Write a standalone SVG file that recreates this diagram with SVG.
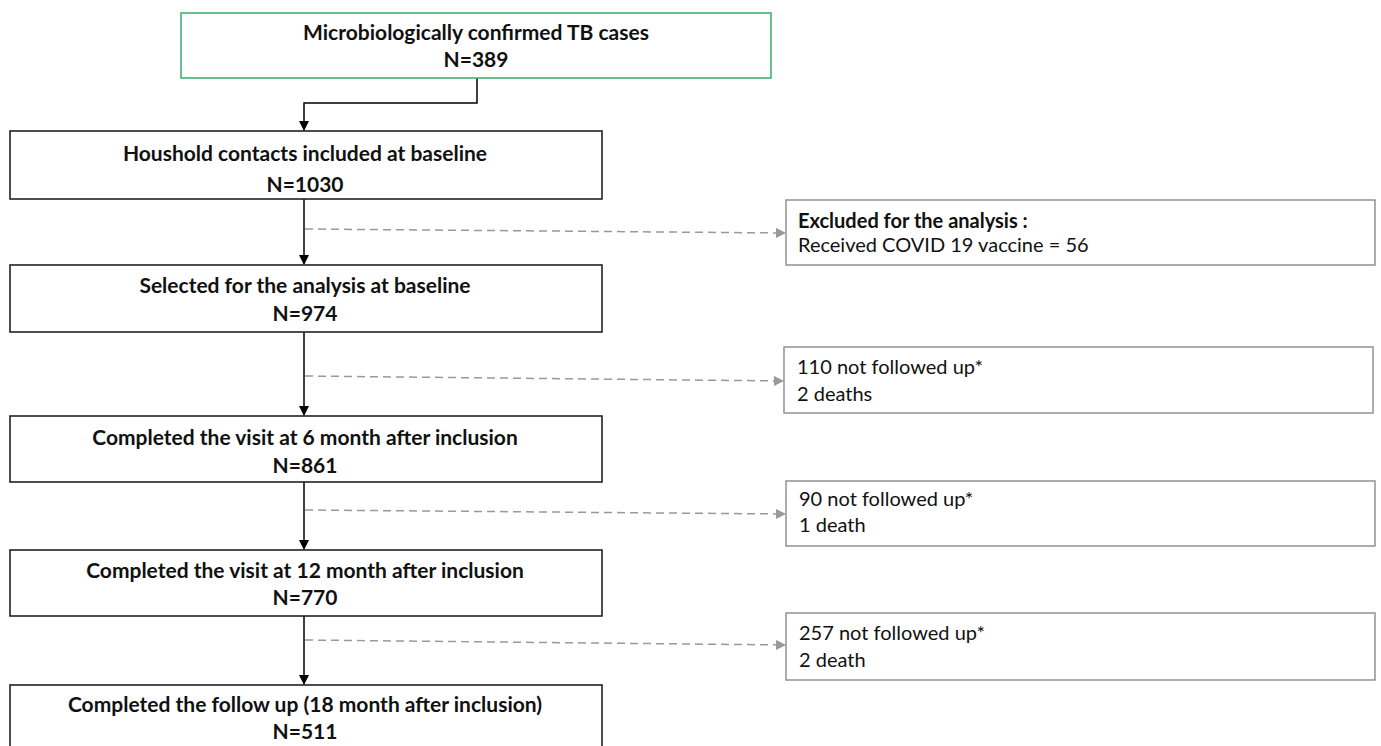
<svg xmlns="http://www.w3.org/2000/svg" width="1381" height="746" viewBox="0 0 1381 746">
<defs>
<style>
.main{fill:#fff;stroke:#222;stroke-width:1.6}
.green{fill:#fff;stroke:#3cb371;stroke-width:1.6}
.side{fill:#fff;stroke:#8a8a8a;stroke-width:1.4}
.t{font-family:Lato,"Liberation Sans",sans-serif;font-size:20px;fill:#111}
.b{font-weight:bold;text-anchor:middle;font-size:21px}
.solid{fill:none;stroke:#000;stroke-width:1.5}
.dash{fill:none;stroke:#999;stroke-width:1.5;stroke-dasharray:8,5}
</style>
<marker id="ab" markerWidth="10" markerHeight="10" refX="9" refY="5" orient="auto" markerUnits="userSpaceOnUse"><path d="M0,0 L10,5 L0,10 z" fill="#000"/></marker>
<marker id="ag" markerWidth="10" markerHeight="10" refX="9" refY="5" orient="auto" markerUnits="userSpaceOnUse"><path d="M0,0 L10,5 L0,10 z" fill="#999"/></marker>
</defs>
<g id="connectors">
<path class="solid" d="M477,78 V103 H304 V130" marker-end="url(#ab)"/>
<path class="solid" d="M304,199 V264" marker-end="url(#ab)"/>
<path class="solid" d="M304,332 V415" marker-end="url(#ab)"/>
<path class="solid" d="M304,482 V549" marker-end="url(#ab)"/>
<path class="solid" d="M304,616 V684" marker-end="url(#ab)"/>
<path class="dash" d="M305,229 L785,233" marker-end="url(#ag)"/>
<path class="dash" d="M305,376 L783,381" marker-end="url(#ag)"/>
<path class="dash" d="M305,510 L785,514" marker-end="url(#ag)"/>
<path class="dash" d="M305,640 L785,645" marker-end="url(#ag)"/>
</g>
<g id="n_tb">
<rect class="green" x="181" y="13" width="590" height="65"/>
<text class="t b" x="476" y="40">Microbiologically confirmed TB cases</text>
<text class="t b" x="476" y="67">N=389</text>
</g>
<g id="n_baseline">
<rect class="main" x="10" y="131" width="592" height="68"/>
<text class="t b" x="305" y="161">Houshold contacts included at baseline</text>
<text class="t b" x="305" y="192">N=1030</text>
</g>
<g id="n_selected">
<rect class="main" x="10" y="265" width="592" height="67"/>
<text class="t b" x="305" y="293">Selected for the analysis at baseline</text>
<text class="t b" x="305" y="321">N=974</text>
</g>
<g id="n_6m">
<rect class="main" x="10" y="416" width="592" height="66"/>
<text class="t b" x="305" y="445">Completed the visit at 6 month after inclusion</text>
<text class="t b" x="305" y="473">N=861</text>
</g>
<g id="n_12m">
<rect class="main" x="10" y="550" width="592" height="66"/>
<text class="t b" x="305" y="578">Completed the visit at 12 month after inclusion</text>
<text class="t b" x="305" y="605">N=770</text>
</g>
<g id="n_18m">
<rect class="main" x="10" y="685" width="592" height="80"/>
<text class="t b" x="305" y="712">Completed the follow up (18 month after inclusion)</text>
<text class="t b" x="305" y="739">N=511</text>
</g>
<g id="x_excluded">
<rect class="side" x="786" y="200" width="589" height="65"/>
<text class="t" x="798" y="228" font-weight="bold">Excluded for the analysis :</text>
<text class="t" x="798" y="252">Received  COVID 19 vaccine = 56</text>
</g>
<g id="x_6m">
<rect class="side" x="784" y="347" width="589" height="66"/>
<text class="t" x="797" y="374">110 not followed up*</text>
<text class="t" x="797" y="401">2 deaths</text>
</g>
<g id="x_12m">
<rect class="side" x="786" y="481" width="589" height="65"/>
<text class="t" x="799" y="506">90 not followed up*</text>
<text class="t" x="799" y="532">1 death</text>
</g>
<g id="x_18m">
<rect class="side" x="786" y="613" width="589" height="67"/>
<text class="t" x="799" y="640">257 not followed up*</text>
<text class="t" x="799" y="667">2 death</text>
</g>
</svg>
